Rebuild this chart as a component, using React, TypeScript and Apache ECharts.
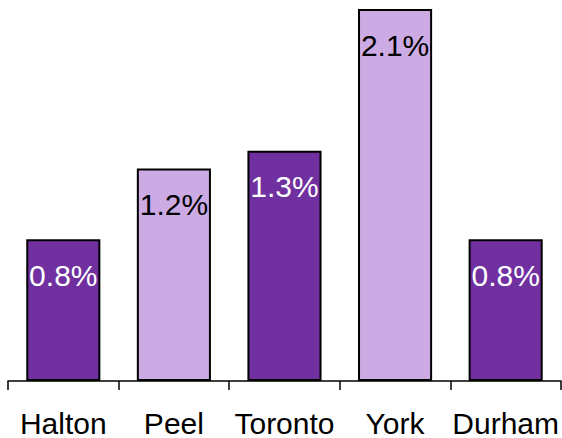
import React, { useEffect, useRef } from "react";
import * as echarts from "echarts";

const categories = ["Halton", "Peel", "Toronto", "York", "Durham"];
const values = [0.8, 1.2, 1.3, 2.1, 0.8];
const barColors = ["#7030A0", "#CCAAE3", "#7030A0", "#CCAAE3", "#7030A0"];
const labelColors = ["#FFFFFF", "#000000", "#FFFFFF", "#000000", "#FFFFFF"];

export default function App() {
  const ref = useRef<HTMLDivElement>(null);
  useEffect(() => {
    if (!ref.current) return;
    const chart = echarts.init(ref.current, undefined, { renderer: "svg" });
    chart.setOption({
      animation: false,
      backgroundColor: "#FFFFFF",
      grid: { left: 8, right: 1, top: 9, bottom: 56, containLabel: false },
      xAxis: {
        type: "category",
        data: categories,
        axisLine: { show: true, lineStyle: { color: "#000000", width: 1.5 } },
        axisTick: { show: true, interval: 0, length: 9, lineStyle: { color: "#000000", width: 1.5 } },
        axisLabel: {
          interval: 0,
          hideOverlap: false,
          color: "#000000",
          fontSize: 30,
          fontFamily: "Liberation Sans",
          margin: 27,
        },
      },
      yAxis: {
        type: "value",
        min: 0,
        max: 2.1,
        show: false,
        splitLine: { show: false },
      },
      series: [
        {
          type: "bar",
          barWidth: "67%",
          data: values.map((v, i) => ({
            value: v,
            itemStyle: { color: barColors[i], borderColor: "#000000", borderWidth: 2 },
            label: { color: labelColors[i] },
          })),
          label: {
            show: true,
            position: "insideTop",
            distance: 21,
            fontSize: 30,
            fontFamily: "Liberation Sans",
            formatter: (p: any) => p.value.toFixed(1) + "%",
          },
        },
      ],
    });
    return () => chart.dispose();
  }, []);
  return (
    <div
      ref={ref}
      style={{ position: "absolute", left: 0, top: 0, width: 562, height: 438 }}
    />
  );
}
